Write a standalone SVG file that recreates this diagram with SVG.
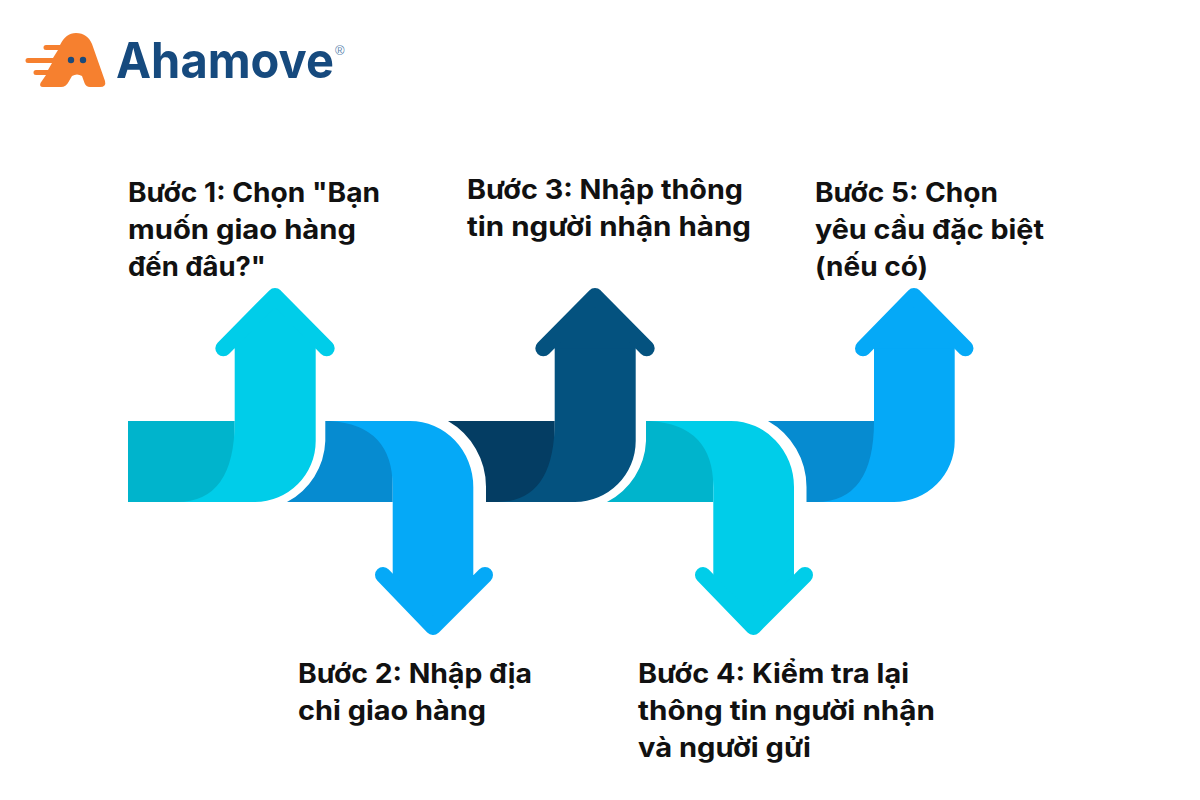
<svg xmlns="http://www.w3.org/2000/svg" width="1200" height="800" viewBox="0 0 1200 800">
<style>
.t{font-family:"Inter","Liberation Sans",sans-serif;font-weight:700;font-size:26.500px;fill:#111}
.h{stroke-width:16;stroke-linecap:round;stroke-linejoin:round}
</style>
<rect width="1200" height="800" fill="#fff"/>
<g id="logo">
<path d="M76 33C84 33 89 37 92 44L105 81Q106.500 87 100 87H90Q86 87 84.500 83L82 76Q77 73 72 76L68.500 82Q66 87 61 87H43Q39 87 40.500 83L46 75H36A2.500 2.500 0 0 1 36 70H48L52 63H28A2.500 2.500 0 0 1 28 58H53L58 50H46A2.500 2.500 0 0 1 46 45H60C64 37 69 33 76 33Z" fill="#F6802F"/>
<circle cx="71" cy="60" r="3.200" fill="#1A4A7C"/><circle cx="83" cy="60" r="3.200" fill="#1A4A7C"/>
<text x="116" y="78" font-family="Inter,'Liberation Sans',sans-serif" font-weight="700" font-size="50" fill="#164A7E" textLength="218" lengthAdjust="spacingAndGlyphs">Ahamove</text>
<text x="335" y="55" font-family="'Liberation Sans',sans-serif" font-size="13" fill="#5C86AE">®</text>
</g>
<g id="step-1">
<path d="M128 421H234.700V502H128Z" fill="#00B4CC"/>
<path d="M234.700 346V421Q234.700 502 177 502H255A61 61 0 0 0 315.700 441V346Z" fill="#00CDE9"/>
<polyline class="h" points="223.300,348.300 275,296 326.700,348.300" fill="#00CDE9" stroke="#00CDE9"/>
<text class="t" x="128" y="202" textLength="252" lengthAdjust="spacingAndGlyphs">Bước 1: Chọn "Bạn</text>
<text class="t" x="128" y="239" textLength="228" lengthAdjust="spacingAndGlyphs">muốn giao hàng</text>
<text class="t" x="128" y="276" textLength="138" lengthAdjust="spacingAndGlyphs">đến đâu?"</text>
</g>
<g id="step-2">
<path d="M325.300 421V441A72 72 0 0 1 287 502H392.700V421Z" fill="#068BD0"/>
<path d="M330 421Q392.700 425 392.700 487V577H473.300V487A63.300 66 0 0 0 410 421Z" fill="#05A9F7"/>
<polyline class="h" points="383,575 433,627 485,575" fill="#05A9F7" stroke="#05A9F7"/>
<text class="t" x="298" y="683" textLength="234" lengthAdjust="spacingAndGlyphs">Bước 2: Nhập địa</text>
<text class="t" x="298" y="720" textLength="188" lengthAdjust="spacingAndGlyphs">chỉ giao hàng</text>
</g>
<g id="step-3">
<path d="M448 421A76 76 0 0 1 486 487V502H554.700V421Z" fill="#043D63"/>
<path d="M554.700 346V421Q554.700 502 497 502H575A61 61 0 0 0 635.700 441V346Z" fill="#04527F"/>
<polyline class="h" points="543.300,348.300 595,296 646.700,348.300" fill="#04527F" stroke="#04527F"/>
<text class="t" x="467" y="199" textLength="276" lengthAdjust="spacingAndGlyphs">Bước 3: Nhập thông</text>
<text class="t" x="467" y="236" textLength="284" lengthAdjust="spacingAndGlyphs">tin người nhận hàng</text>
</g>
<g id="step-4">
<path d="M646 421V441A72 72 0 0 1 607 502H713.300V421Z" fill="#00B4CC"/>
<path d="M650 421Q713.300 425 713.300 487V577H794V487A63.300 66 0 0 0 731 421Z" fill="#00CDE9"/>
<polyline class="h" points="703,575 753.300,627 805,575" fill="#00CDE9" stroke="#00CDE9"/>
<text class="t" x="638" y="683" textLength="271" lengthAdjust="spacingAndGlyphs">Bước 4: Kiểm tra lại</text>
<text class="t" x="638" y="720" textLength="297" lengthAdjust="spacingAndGlyphs">thông tin người nhận</text>
<text class="t" x="638" y="757" textLength="173" lengthAdjust="spacingAndGlyphs">và người gửi</text>
</g>
<g id="step-5">
<path d="M768 421A76 76 0 0 1 806.500 487V502H874V421Z" fill="#068BD0"/>
<path d="M874 346V421Q874 502 816 502H894A61 61 0 0 0 954.700 441V346Z" fill="#05A9F7"/>
<polyline class="h" points="863,348.300 914,296 965.500,348.300" fill="#05A9F7" stroke="#05A9F7"/>
<text class="t" x="815" y="202" textLength="183" lengthAdjust="spacingAndGlyphs">Bước 5: Chọn</text>
<text class="t" x="815" y="239" textLength="229" lengthAdjust="spacingAndGlyphs">yêu cầu đặc biệt</text>
<text class="t" x="815" y="276" textLength="113" lengthAdjust="spacingAndGlyphs">(nếu có)</text>
</g>
</svg>
